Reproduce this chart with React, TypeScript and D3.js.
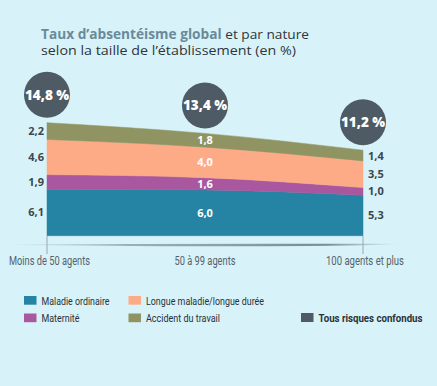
import React from 'react';
import * as d3 from 'd3';

// --- data ---
const categories = ['Moins de 50 agents', '50 à 99 agents', '100 agents et plus'];
const maladieOrdinaire = [6.1, 6.0, 5.3];
const maternite = [1.9, 1.6, 1.0];
const longueMaladie = [4.6, 4.0, 3.5];
const accidentTravail = [2.2, 1.8, 1.4];
const totals = [14.8, 13.4, 11.2];

const seriesKeys = ['maladie', 'maternite', 'longue', 'accident'];
const seriesLabels = ['Maladie ordinaire', 'Maternité', 'Longue maladie/longue durée', 'Accident du travail'];
const seriesColors = ['#2583a3', '#a9589f', '#fdab87', '#8f9462'];
const totalLabel = 'Tous risques confondus';

const W = 437;
const H = 386;
const BG = '#d7f3f9';
const DARK = '#4e5a64';
const condensed = 'Roboto, "DejaVu Sans", sans-serif';
const bold = '"Open Sans", "DejaVu Sans", sans-serif';

// measured text widths (px) so the narrow DIN-like face is mimicked
const catWidths = [81, 61, 78];
const legendWidths = [68, 38, 118, 74];

const fmt = (v: number) => v.toFixed(1).replace('.', ',');

export default function App() {
  const rows = categories.map((c, i) => ({
    cat: c,
    maladie: maladieOrdinaire[i],
    maternite: maternite[i],
    longue: longueMaladie[i],
    accident: accidentTravail[i],
  }));

  const x = d3.scalePoint<string>().domain(categories).range([47, 363]);
  const y = d3.scaleLinear().domain([0, 14.8]).range([235.7, 122.7]);

  const stack = d3.stack<any>().keys(seriesKeys);
  const layers = stack(rows);

  const area = d3.area<any>()
    .x((d) => x(d.data.cat) as number)
    .y0((d) => y(d[0]))
    .y1((d) => y(d[1]))
    .curve(d3.curveMonotoneX);

  const last = categories.length - 1;

  return (
    <svg width={W} height={H} style={{ position: 'absolute', left: 0, top: 0 }}>
      <defs>
        <linearGradient id="shadow" x1="0" x2="1" y1="0" y2="0">
          <stop offset="0" stopColor="#8fa3aa" stopOpacity="0" />
          <stop offset="0.3" stopColor="#8a9ea5" stopOpacity="0.8" />
          <stop offset="0.8" stopColor="#7a8c93" stopOpacity="1" />
          <stop offset="1" stopColor="#8fa3aa" stopOpacity="0" />
        </linearGradient>
      </defs>
      <rect width={W} height={H} fill={BG} />

      {/* title */}
      <text x={41} y={38.5} fontFamily={bold} fontSize={13.5} fill="#2f353b" textLength={268} lengthAdjust="spacingAndGlyphs">
        <tspan fontWeight={700} fill="#6a8a99">Taux d’absentéisme global</tspan>
        <tspan> et par nature</tspan>
      </text>
      <text x={41} y={55} fontFamily={bold} fontSize={13.5} fill="#2f353b" textLength={255} lengthAdjust="spacingAndGlyphs">
        selon la taille de l’établissement (en %)
      </text>

      {/* stacked areas */}
      {layers.map((layer, li) => (
        <path key={layer.key} d={area(layer) as string} fill={seriesColors[li]} stroke={seriesColors[li]} strokeWidth={0.5} />
      ))}

      {/* axis shadow + ticks */}
      <path d="M8,244.3 Q200,243.4 405,243.8 Q330,248 8,244.9 Z" fill="url(#shadow)" />
      {[categories[0], categories[last]].map((c) => (
        <line key={c} x1={x(c)} x2={x(c)} y1={236} y2={254} stroke="#9aa8ad" strokeWidth={1} />
      ))}
      {categories.map((c, i) => (
        <text key={c} x={(x(c) as number) + (i === 0 ? 2.5 : i === last ? 2 : 0)} y={265} textAnchor="middle"
          fontFamily={condensed} fontSize={12} fill="#56616a"
          textLength={catWidths[i]} lengthAdjust="spacingAndGlyphs">{c}</text>
      ))}

      {/* value labels */}
      {layers.map((layer, li) =>
        layer.map((d, i) => {
          const cy = (y(d[0]) + y(d[1])) / 2 + 4;
          const px = x(d.data.cat) as number;
          const side = i === 0 ? 'left' : i === last ? 'right' : 'mid';
          return (
            <text key={`${li}-${i}`}
              x={side === 'left' ? px - 3 : side === 'right' ? px + 5 : px}
              y={cy}
              textAnchor={side === 'left' ? 'end' : side === 'right' ? 'start' : 'middle'}
              fontFamily={bold} fontWeight={700} fontSize={11}
              fill={side === 'mid' ? '#ffffff' : '#3d464e'}>
              {fmt(d[1] - d[0])}
            </text>
          );
        })
      )}

      {/* total bubbles */}
      {categories.map((c, i) => {
        const cx = x(c) as number;
        const cy = y(totals[i]) - 28;
        return (
          <g key={c}>
            <circle cx={cx} cy={cy} r={23} fill={DARK} />
            <text x={cx} y={cy + 5} textAnchor="middle" fontFamily={bold} fontWeight={800} fontSize={13.5} fill="#ffffff">
              {fmt(totals[i]) + ' %'}
            </text>
          </g>
        );
      })}

      {/* legend */}
      {seriesKeys.map((k, i) => {
        const col = i === 0 || i === 1 ? 0 : 1;
        const row = i === 0 || i === 2 ? 0 : 1;
        const lx = col === 0 ? 24 : 128.5;
        const ly = row === 0 ? 296 : 313.5;
        return (
          <g key={k}>
            <rect x={lx} y={ly} width={12.5} height={8.7} fill={seriesColors[i]} />
            <text x={lx + 17.5} y={ly + 8.7} fontFamily={condensed} fontSize={11.5} fill="#2b3038"
              textLength={legendWidths[i]} lengthAdjust="spacingAndGlyphs">{seriesLabels[i]}</text>
          </g>
        );
      })}
      <rect x={301} y={313} width={12.5} height={9} fill={DARK} />
      <text x={318.5} y={322} fontFamily={condensed} fontWeight={700} fontSize={11.5} fill="#2b3038"
        textLength={104} lengthAdjust="spacingAndGlyphs">{totalLabel}</text>
    </svg>
  );
}
